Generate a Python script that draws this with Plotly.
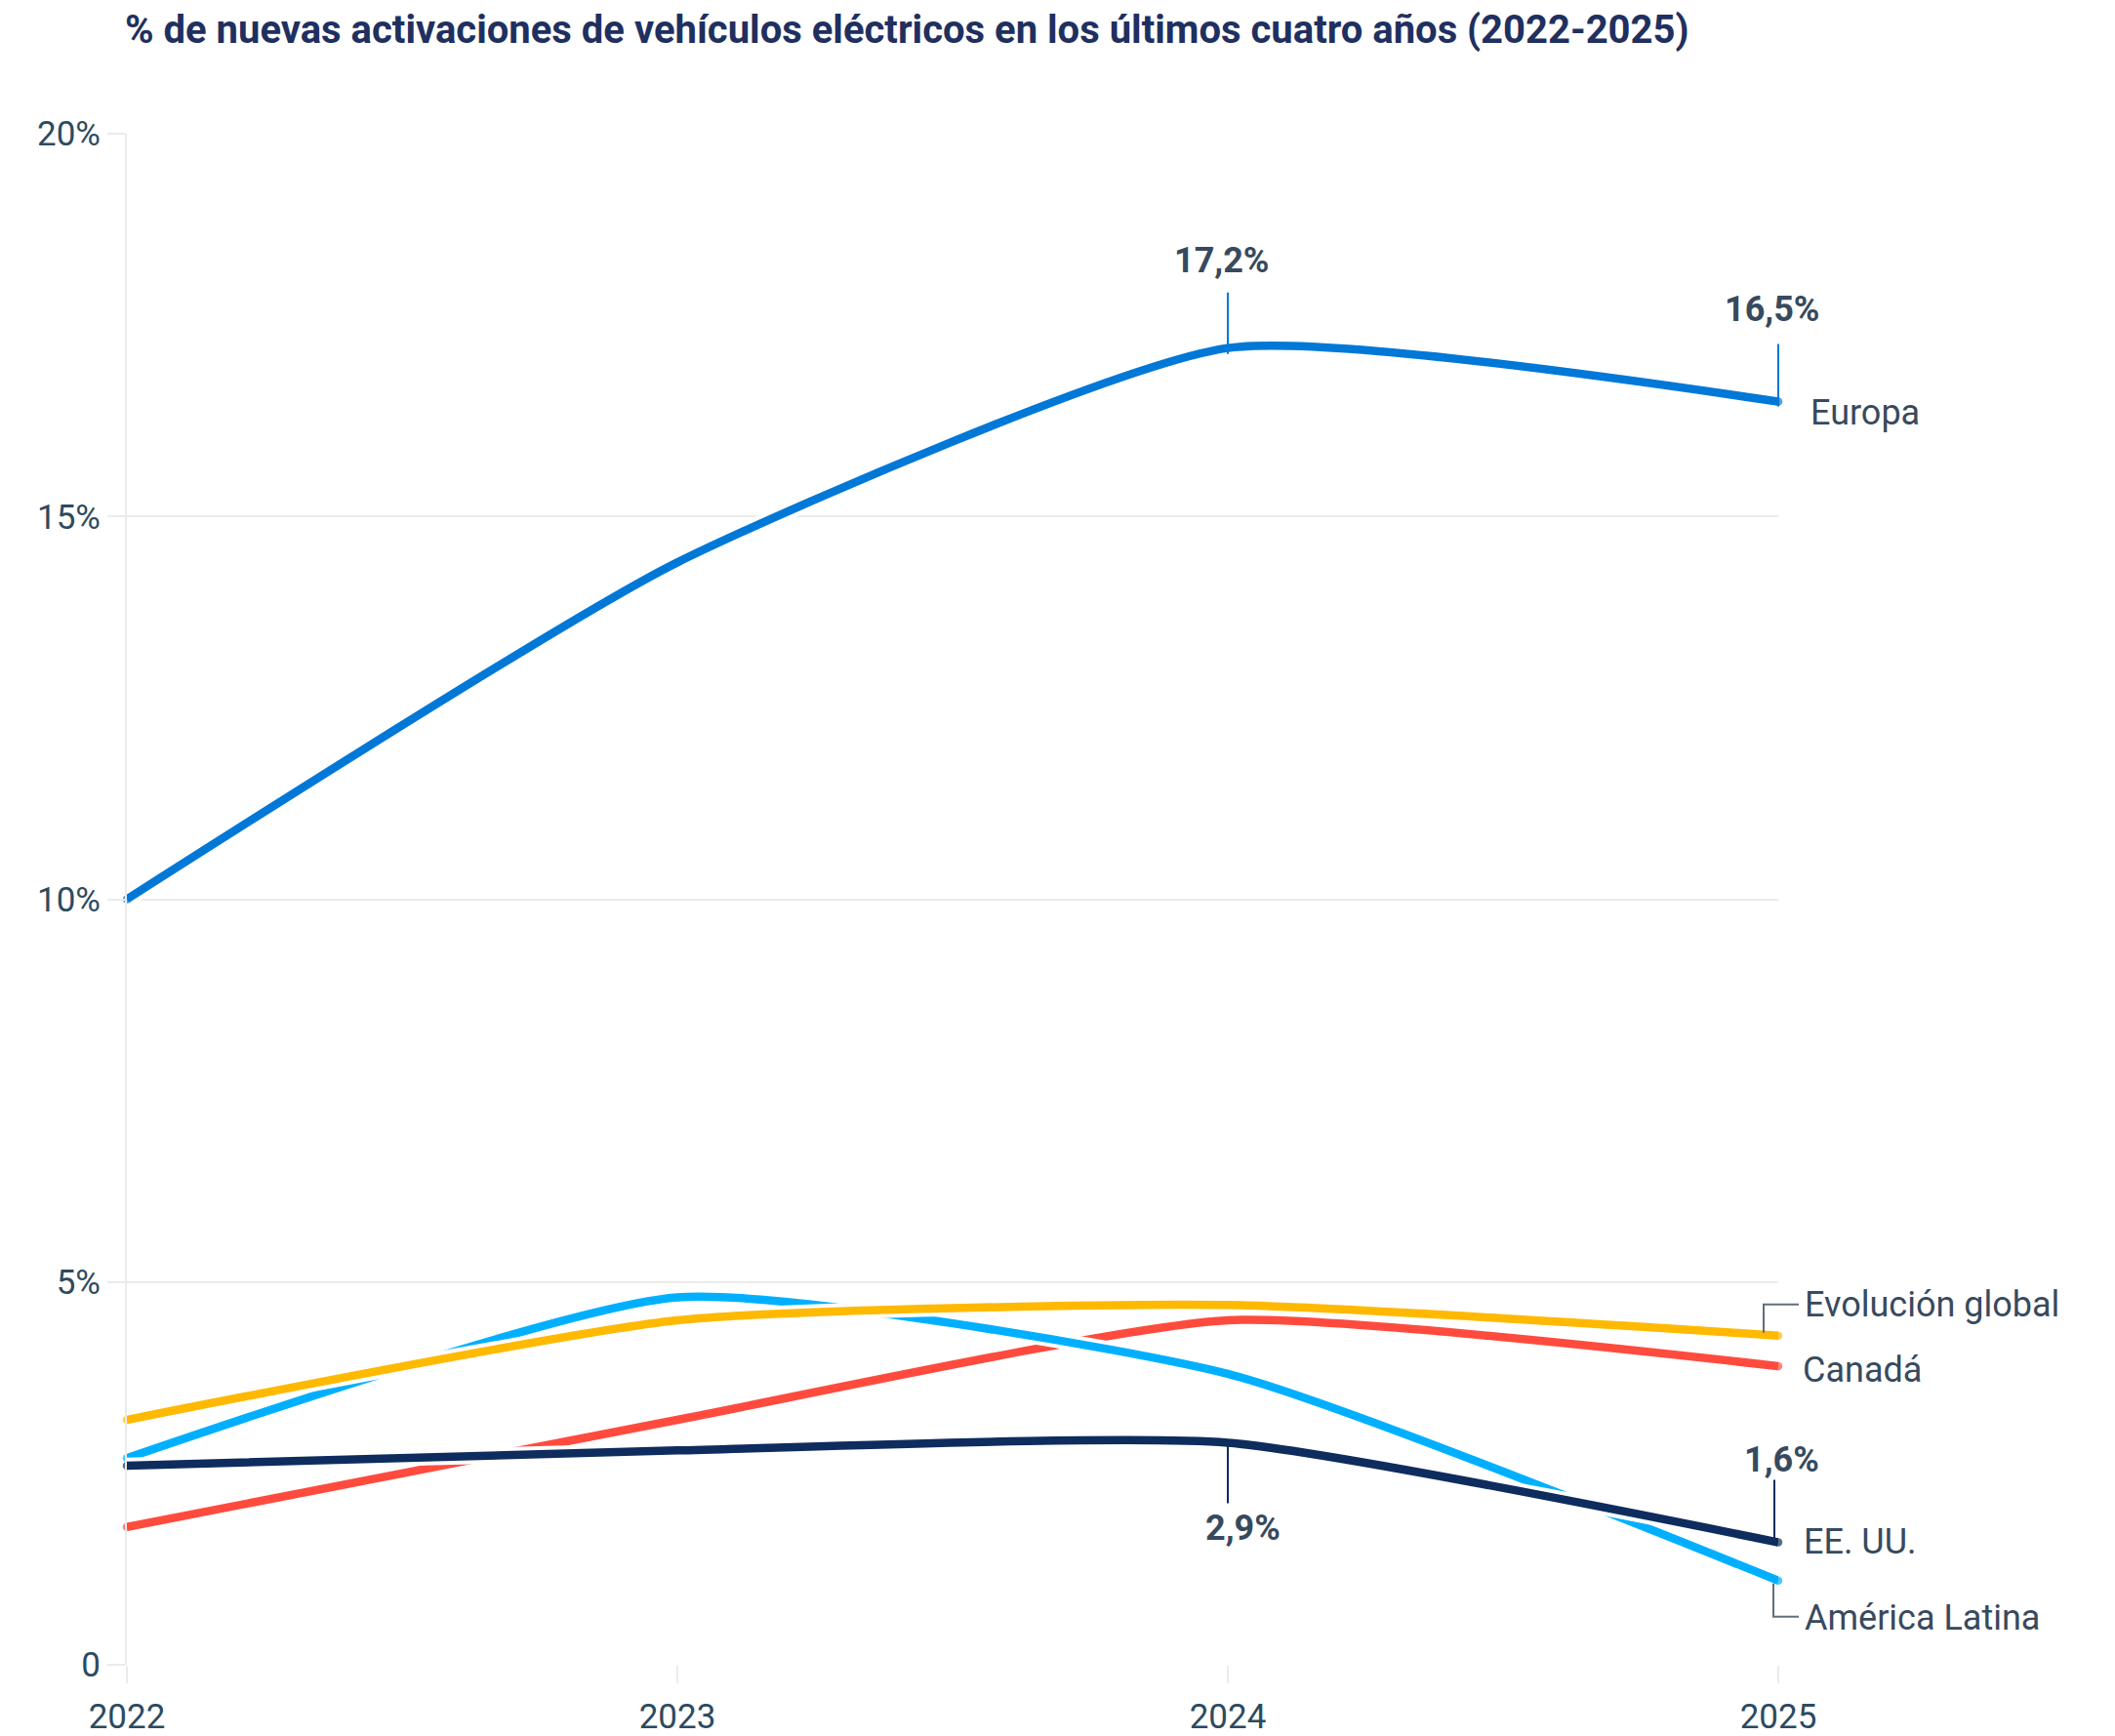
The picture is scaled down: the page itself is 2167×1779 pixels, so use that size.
import plotly.graph_objects as go

years = [2022, 2023, 2024, 2025]
europa = [10.0, 14.4, 17.2, 16.5]
global_ev = [3.2, 4.5, 4.7, 4.3]
canada = [1.8, 3.2, 4.5, 3.9]
latam = [2.7, 4.8, 3.8, 1.1]
eeuu = [2.6, 2.8, 2.9, 1.6]

y_tickvals = [0, 5, 10, 15, 20]
y_ticktext = ["0", "5%", "10%", "15%", "20%"]
x_ticktext = ["2022", "2023", "2024", "2025"]

title_text = "% de nuevas activaciones de vehículos eléctricos en los últimos cuatro años (2022-2025)"

C_EUR = "#0078D7"
C_GLB = "#FFB900"
C_CAN = "#FF4B3E"
C_LAT = "#00B0FF"
C_USA = "#0E2C5E"
C_TXT = "#374A5E"
C_TICK = "#2D4A60"
C_GRID = "#EBEBEB"
C_LEAD = "#5F6E7C"
FONT = "Roboto"
LW = 8.5
SMOOTH = 0.55
XR = [years[0], years[-1]]

# drawing order bottom -> top
series = [
    ("Canadá", canada, C_CAN),
    ("América Latina", latam, C_LAT),
    ("Evolución global", global_ev, C_GLB),
    ("EE. UU.", eeuu, C_USA),
    ("Europa", europa, C_EUR),
]

cap_sizes = [LW, 0, 0, LW]

fig = go.Figure()
for name, vals, col in series:
    fig.add_trace(go.Scatter(x=years, y=vals, mode="lines", cliponaxis=False,
                             line=dict(color="white", width=LW + 8, shape="spline", smoothing=SMOOTH),
                             hoverinfo="skip", showlegend=False))
    fig.add_trace(go.Scatter(x=years, y=vals, mode="lines+markers", name=name, cliponaxis=False,
                             line=dict(color=col, width=LW, shape="spline", smoothing=SMOOTH),
                             marker=dict(size=cap_sizes, color=col, line=dict(width=0)),
                             showlegend=False))

annotations = []
shapes = []

# series name labels at the right end
name_labels = [
    ("Europa", europa[-1], 31, -11),
    ("Evolución global", global_ev[-1], 25, 32),
    ("Canadá", canada[-1], 23, -4),
    ("EE. UU.", eeuu[-1], 24, 0),
    ("América Latina", latam[-1], 25, -38),
]
for txt, yv, xs, ys in name_labels:
    annotations.append(dict(x=years[-1], y=yv, xref="x", yref="y", text=txt,
                            showarrow=False, xanchor="left", yanchor="middle",
                            xshift=xs, yshift=ys,
                            font=dict(family=FONT, size=36, color=C_TXT)))

# value callouts: (x, y, text, color, xshift, yshift, line y0, line y1, line xoff)
callouts = [
    (years[2], europa[2], "17,2%", C_EUR, -7, 90, -6, 57, 0),
    (years[3], europa[3], "16,5%", C_EUR, -7, 95, -5, 59, 0),
    (years[2], eeuu[2], "2,9%", C_USA, 15, -87, 0, -62, 0),
    (years[3], eeuu[3], "1,6%", C_USA, 3, 84, 4, 64, -4),
]


def to_paper(xv):
    return (xv - XR[0]) / (XR[1] - XR[0])


def pix_line(xv, yv, x0, y0, x1, y1, col):
    # x anchored in paper units (derived from the data year) so leaders are not clipped
    return dict(type="line", xref="paper", yref="y", xsizemode="pixel", ysizemode="pixel",
                xanchor=to_paper(xv), yanchor=yv, x0=x0, x1=x1, y0=y0, y1=y1,
                line=dict(color=col, width=2), layer="above")


for xv, yv, txt, col, xs, ys, ly0, ly1, lx in callouts:
    annotations.append(dict(x=xv, y=yv, xref="x", yref="y", text="<b>%s</b>" % txt,
                            showarrow=False, xanchor="center", yanchor="middle",
                            xshift=xs, yshift=ys,
                            font=dict(family=FONT, size=36, color=C_TXT)))
    shapes.append(pix_line(xv, yv, lx, ly0, lx, ly1, col))

# elbow leaders (vertical + horizontal segments)
shapes.append(pix_line(years[3], global_ev[3], -15, 3, -15, 32, C_LEAD))
shapes.append(pix_line(years[3], global_ev[3], -16, 32, 21, 32, C_LEAD))
shapes.append(pix_line(years[3], latam[3], -5, -3, -5, -37, C_LEAD))
shapes.append(pix_line(years[3], latam[3], -6, -37, 21, -37, C_LEAD))

fig.update_layout(
    width=2167, height=1779,
    margin=dict(l=130, r=345, t=137, b=73),
    paper_bgcolor="white", plot_bgcolor="white",
    title=dict(text="<b>%s</b>" % title_text, xref="container", yref="container",
               x=128 / 2167, y=1 - 30 / 1779, xanchor="left", yanchor="middle",
               font=dict(family=FONT, size=40, color="#1F3060")),
    xaxis=dict(range=XR, tickvals=years, ticktext=x_ticktext,
               showgrid=False, zeroline=False, showline=False, automargin=False,
               ticks="outside", ticklen=18, tickwidth=2, tickcolor=C_GRID,
               ticklabelstandoff=4,
               tickfont=dict(family=FONT, size=35, color=C_TICK)),
    yaxis=dict(range=[0, 20], tickvals=y_tickvals, ticktext=y_ticktext,
               showgrid=True, gridcolor=C_GRID, gridwidth=2, zeroline=False,
               showline=True, linecolor=C_GRID, linewidth=2, automargin=False,
               ticks="outside", ticklen=18, tickwidth=2, tickcolor=C_GRID,
               tickfont=dict(family=FONT, size=35, color=C_TICK)),
    annotations=annotations,
    shapes=shapes,
    showlegend=False,
)

fig.write_html("out.html", config={"displayModeBar": False},
               post_script="document.body.style.margin='0';")
